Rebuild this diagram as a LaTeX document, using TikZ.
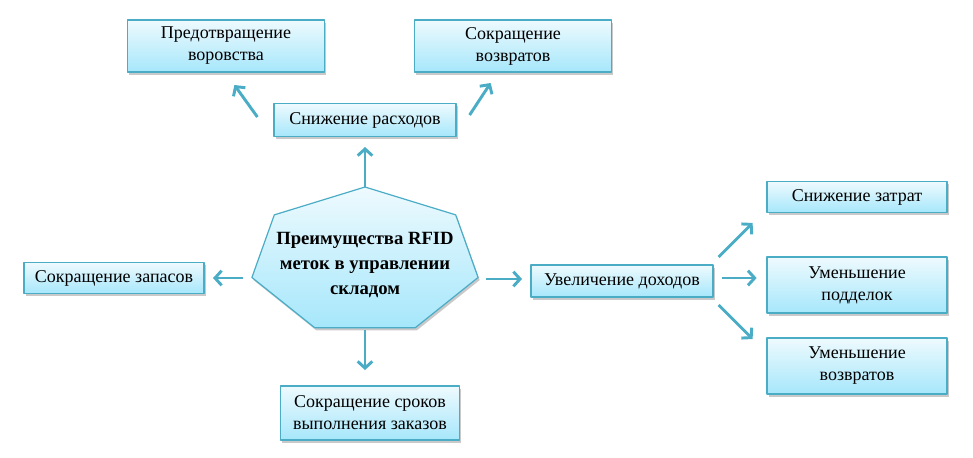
\documentclass[tikz,border=0pt]{standalone}
\usepackage{fontspec}
\newfontfamily\rfserif{Liberation Serif}
\usetikzlibrary{arrows.meta,shadows}
\definecolor{rfline}{HTML}{4BACC6}
\definecolor{rftop}{HTML}{EEFAFE}
\definecolor{rfbot}{HTML}{A6E7FB}
\begin{document}
\begin{tikzpicture}[x=0.75pt,y=-0.75pt,line join=round,font=\rfserif\fontsize{13.5}{16.5}\selectfont,
	blk/.style={draw=rfline,line width=0.9pt,top color=rftop,bottom color=rfbot,
		drop shadow={shadow xshift=1.2pt,shadow yshift=-2pt,opacity=0.3,fill=black!70},align=center,inner sep=0pt},
	sz/.style 2 args={minimum width=#1*0.75pt,minimum height=#2*0.75pt},
	arr/.style={draw=rfline,line width=2.2pt,-{Straight Barb[length=5pt,width=11pt]}}]
	\useasboundingbox (0,0) rectangle (973,457);
	% heptagon
	\draw[blk,shift={(365,261)}] (-90:116 and 74) foreach \k in {1,...,6}{--(-90+\k*51.4286:116 and 74)} --cycle;
	\node[align=center,font=\rfserif\fontsize{14}{18.5}\selectfont\bfseries] (ctr) at (365,265) {Преимущества RFID\\меток в управлении\\складом};
	\coordinate (htop) at (365,187);
	\coordinate (hbot) at (365,328);
	\coordinate (hl) at (252,278);
	\coordinate (hr) at (478,278);
	% boxes
	\node[blk,sz={197}{52}] (pred) at (226,46) {Предотвращение\\воровства};
	\node[blk,sz={197}{52}] (vozv1) at (513,46) {Сокращение\\возвратов};
	\node[blk,sz={182}{33}] (ras) at (365,120) {Снижение расходов};
	\node[blk,sz={180}{31}] (zap) at (114,278) {Сокращение запасов};
	\node[blk,sz={182}{32}] (doh) at (622,281) {Увеличение доходов};
	\node[blk,sz={179}{54}] (srok) at (370,413) {Сокращение сроков\\выполнения заказов};
	\node[blk,sz={180}{31}] (zatr) at (857,197) {Снижение затрат};
	\node[blk,sz={180}{56}] (podd) at (857,285) {Уменьшение\\подделок};
	\node[blk,sz={180}{56}] (vozv2) at (857,366) {Уменьшение\\возвратов};
	% arrows
	\draw[arr] (htop) -- ++(0,-40);
	\draw[arr] (hbot) ++(0,2) -- ++(0,40);
	\draw[arr] (hl) ++(-9,0) -- ++(-30,0);
	\draw[arr] (hr) ++(8,1) -- ++(36,0);
	\draw[arr] (ras.west) ++(-16,-3) -- ++(-23,-32);
	\draw[arr] (ras.east) ++(13,-5) -- ++(21,-32);
	\draw[arr] (doh.east) ++(5,-24) -- ++(34,-34);
	\draw[arr] (doh.east) ++(8,-3) -- ++(35,0);
	\draw[arr] (doh.east) ++(5,24) -- ++(34,34);
\end{tikzpicture}
\end{document}
